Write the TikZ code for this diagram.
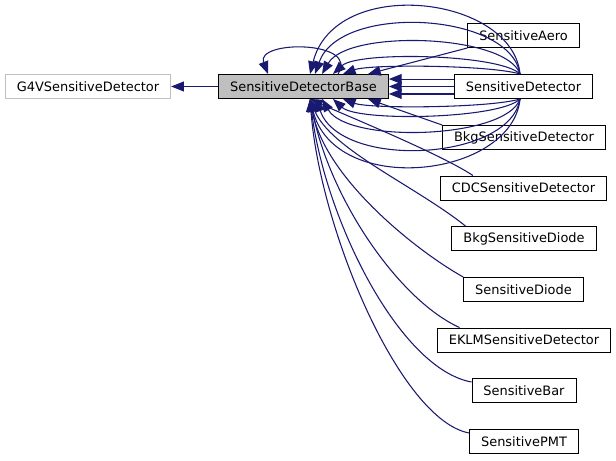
\documentclass[tikz,border=0pt]{standalone}
\usepackage{fontspec}
\setmainfont{DejaVu Sans}
\usetikzlibrary{arrows.meta}
\definecolor{edgeblue}{HTML}{191970}
\definecolor{basegray}{HTML}{BFBFBF}
\begin{document}
\begin{tikzpicture}[x=0.75pt,y=-0.75pt,
    cls/.style={draw=black, fill=white, line width=0.75pt, minimum height=18pt,
      inner xsep=8.6pt, inner ysep=0pt, font=\fontsize{9.7pt}{11pt}\selectfont},
    inh/.style={draw=edgeblue, line width=0.8pt, -{Triangle[length=9.5pt,width=7.4pt]}}]
      \useasboundingbox (0,0) rectangle (616,460);

      \node[cls, draw=basegray](g4v) at (88,86.5){G4VSensitiveDetector};
      \node[cls, fill=basegray](base) at (303.5,86.5){SensitiveDetectorBase};

      \node[cls](aero) at (523.5,35.5){SensitiveAero};
      \node[cls](sd) at (523.5,86.5){SensitiveDetector};
      \node[cls](bkgsd) at (524,137.5){BkgSensitiveDetector};
      \node[cls](cdc) at (523.5,188){CDCSensitiveDetector};
      \node[cls](bkgdiode) at (524,238.5){BkgSensitiveDiode};
      \node[cls](diode) at (523.5,289.5){SensitiveDiode};
      \node[cls](eklm) at (524,340){EKLMSensitiveDetector};
      \node[cls](bar) at (524,390.5){SensitiveBar};
      \node[cls](pmt) at (524,441.5){SensitivePMT};
      %
      \draw[inh] (base.west) -- (g4v.east);
      \draw[inh] ([xshift=25.9pt]base.north) .. controls +(22,-34) and +(-13,-34) .. ([xshift=-26.6pt]base.north);

      % SensitiveDetector, straight and arcs
      \draw[inh] ([yshift=5.6pt]sd.west) -- ([yshift=5.6pt]base.east);
      \draw[inh] (sd.west) -- (base.east);
      \draw[inh] ([yshift=-5.6pt]sd.west) -- ([yshift=-5.6pt]base.east);
      \draw[inh] ([xshift=-2.6pt]sd.north) .. controls +(-8,-79) and +(25,-99) .. ([xshift=4.9pt]base.north);
      \draw[inh] ([xshift=-2.6pt]sd.north) .. controls +(-10,-62) and +(25,-71) .. ([xshift=8.6pt]base.north);
      \draw[inh] ([xshift=-2.6pt]sd.north) .. controls +(-14,-40) and +(26,-45) .. ([xshift=13.9pt]base.north);
      \draw[inh] ([xshift=-2.6pt]sd.north) .. controls +(-20,-20) and +(25,-23) .. ([xshift=22.1pt]base.north);
      \draw[inh] ([xshift=-2.6pt]sd.north) .. controls +(-30,-9) and +(27,-10) .. ([xshift=29.6pt]base.north);
      \draw[inh] ([xshift=-2.6pt]sd.south) .. controls +(-8,79) and +(25,99) .. ([xshift=4.9pt]base.south);
      \draw[inh] ([xshift=-2.6pt]sd.south) .. controls +(-10,62) and +(25,71) .. ([xshift=9.4pt]base.south);
      \draw[inh] ([xshift=-2.6pt]sd.south) .. controls +(-14,40) and +(26,45) .. ([xshift=13.9pt]base.south);
      \draw[inh] ([xshift=-2.6pt]sd.south) .. controls +(-20,20) and +(25,23) .. ([xshift=22.1pt]base.south);
      \draw[inh] ([xshift=-2.6pt]sd.south) .. controls +(-30,9) and +(27,10) .. ([xshift=29.6pt]base.south);

      \draw[inh] (aero.south west) -- ([xshift=48.4pt]base.north);
      \draw[inh] (bkgsd.north west) -- ([xshift=48.4pt]base.south);

      \draw[inh] ([xshift=24.8pt]cdc.north west) .. controls +(-33,-22) and +(30,14) .. ([xshift=4.9pt]base.south);
      \draw[inh] ([xshift=10.5pt]bkgdiode.north west) .. controls +(-50,-40) and +(20,50) .. ([xshift=4.9pt]base.south);
      \draw[inh] (diode.north west) .. controls +(-45,-25) and +(15,80) .. ([xshift=4.9pt]base.south);
      \draw[inh] ([xshift=17pt]eklm.north west) .. controls +(-60,-27) and +(20,101) .. ([xshift=4.9pt]base.south);
      \draw[inh] ([yshift=-3pt]bar.north west) .. controls +(-72,-13) and +(15,121) .. ([xshift=4.9pt]base.south);
      \draw[inh] ([yshift=-3pt]pmt.north west) .. controls +(-69,-13) and +(10,131) .. ([xshift=4.9pt]base.south);

    \end{tikzpicture}
\end{document}
